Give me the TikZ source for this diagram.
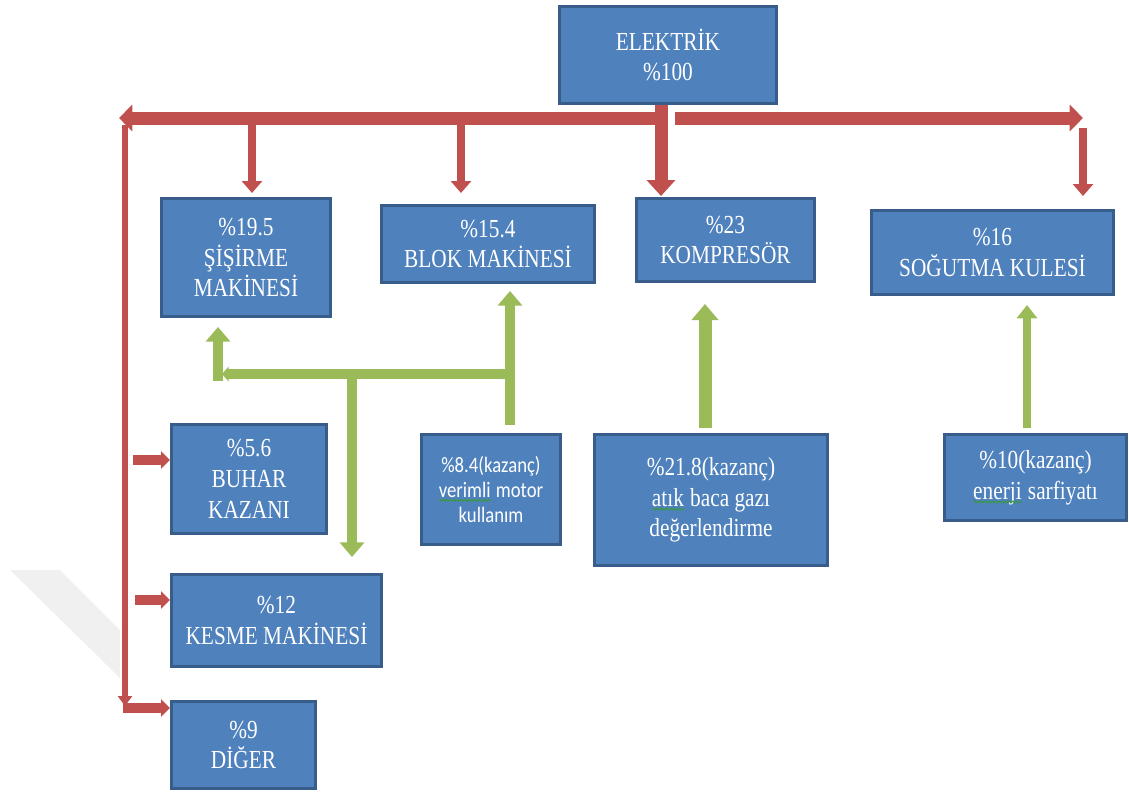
\documentclass[tikz,border=0pt]{standalone}
\usepackage{fontspec}
\setmainfont{Liberation Serif}[FakeStretch=0.82]
\newfontfamily\sansfnt{Carlito}[FakeStretch=0.85]
\usetikzlibrary{arrows.meta,decorations.pathmorphing}
\definecolor{boxfill}{HTML}{4F81BD}
\definecolor{boxline}{HTML}{385D8A}
\definecolor{rd}{HTML}{C0504D}
\definecolor{gr}{HTML}{9BBB59}
\definecolor{sq}{HTML}{3A9A3A}
\definecolor{wm}{HTML}{F0F0F0}
\newsavebox\sqbox
\newcommand\squig[1]{\sbox\sqbox{#1}\rlap{\usebox\sqbox}\raisebox{-3.2pt}{\tikz\draw[sq,line width=0.7pt,decorate,decoration={snake,amplitude=0.7pt,segment length=2.6pt}] (0pt,0pt) -- (\the\wd\sqbox,0pt);}}
\tikzset{
  box/.style={draw=boxline, line width=2.2pt, fill=boxfill, text=white, align=center,
    inner sep=0pt, font=\fontsize{19.5}{23}\selectfont},
  sbox/.style={box, font=\sansfnt\fontsize{16.5}{18.5}\selectfont},
  wh/.style 2 args={minimum width=#1*0.75pt-2.2pt, minimum height=#2*0.75pt-2.2pt},
  rbar/.style={draw=rd, line width=9.75pt, -{Triangle[length=10pt,width=19.5pt]}},
  rvert/.style={draw=rd, line width=9.75pt, -{Triangle[length=12pt,width=21pt]}},
  rdown/.style={draw=rd, line width=6pt, -{Triangle[length=9pt,width=15pt]}},
  rleft/.style={draw=rd, line width=4.5pt, -{Triangle[length=7.5pt,width=10.5pt]}},
  rside/.style={draw=rd, line width=7.5pt, -{Triangle[length=6.75pt,width=12.75pt]}},
  garr/.style={draw=gr, line width=7.5pt, -{Triangle[length=11pt,width=18pt]}},
  gsmall/.style={draw=gr, line width=7.5pt, -{Triangle[length=5pt,width=11pt]}},
  gbig/.style={draw=gr, line width=9.75pt, -{Triangle[length=12pt,width=19.5pt]}},
  gthin/.style={draw=gr, line width=6pt, -{Triangle[length=10pt,width=15pt]}},
}
\begin{document}
\begin{tikzpicture}[x=0.75pt,y=-0.75pt]
\useasboundingbox (0,0) rectangle (1129,794);
% faint watermark
\fill[wm] (10,570) -- (60,570) -- (120,630) -- (120,678) -- cycle;

% boxes
\node[box, wh={220}{100}] (elek) at (668,55) {ELEKTRİK\\\%100};
\node[box, wh={172}{121}] (sis) at (246,257.5) {\%19.5\\ŞİŞİRME\\MAKİNESİ};
\node[box, wh={216}{80}] (blok) at (488,244) {\%15.4\\BLOK MAKİNESİ};
\node[box, wh={181}{86}] (komp) at (725.5,240) {\%23\\KOMPRESÖR};
\node[box, wh={245}{87}] (sog) at (992.5,252.5) {\%16\\SOĞUTMA KULESİ};
\node[box, wh={158}{112}] (buh) at (249,479) {\%5.6\\BUHAR\\KAZANI};
\node[box, wh={213}{95}] (kes) at (276.5,620.5) {\%12\\KESME MAKİNESİ};
\node[box, wh={147}{90}] (dig) at (243.5,745) {\%9\\DİĞER};
\node[sbox, wh={142}{113}] (mot) at (491,489.5) {\%8.4(kazanç)\\\squig{verimli} motor\\kullanım};
\node[box, wh={236}{134}] (baca) at (711,500) {\%21.8(kazanç)\\\squig{atık} baca gazı\\değerlendirme};
\node[box, wh={185}{89}] (enr) at (1035.5,477.5) {\%10(kazanç)\\\squig{enerji} sarfiyatı};

% red distribution
\coordinate (hub) at (663,118);
\coordinate (bl) at (119,118);
\coordinate (br0) at (675,118);
\coordinate (br) at (1083,118);
\draw[rbar] (hub) -- (bl);
\draw[rbar] (br0) -- (br);
\draw[rvert] (elek.south -| 661,0) -- (661,196);

\coordinate (d1) at (252,125);
\coordinate (d2) at (461,125);
\coordinate (d4) at (1083,128);
\draw[rdown] (d1) -- (252,193);
\draw[rdown] (d2) -- (461,193);
\draw[rdown] (d4) -- (1083,196);

\coordinate (lv) at (125,125);
\coordinate (lvend) at (125,706);
\draw[rleft] (lv) -- (lvend);
\draw[rside] (133,460) -- (buh.west |- 0,460);
\draw[rside] (135,600) -- (kes.west |- 0,600);
\draw[rside] (123,708) -- (dig.west |- 0,708);

% green
\coordinate (gm) at (510,425);
\coordinate (gj) at (515,374);
\coordinate (gl) at (222,374);
\coordinate (gd) at (352,374);
\draw[garr] (gm) -- (510,291);
\draw[gsmall] (gj) -- (gl);
\draw[garr] (218,381) -- (218,327);
\draw[garr] (gd) -- (352,557);
\draw[gbig] (705,428) -- (705,304);
\draw[gthin] (1027,428) -- (1027,305);
\end{tikzpicture}
\end{document}
